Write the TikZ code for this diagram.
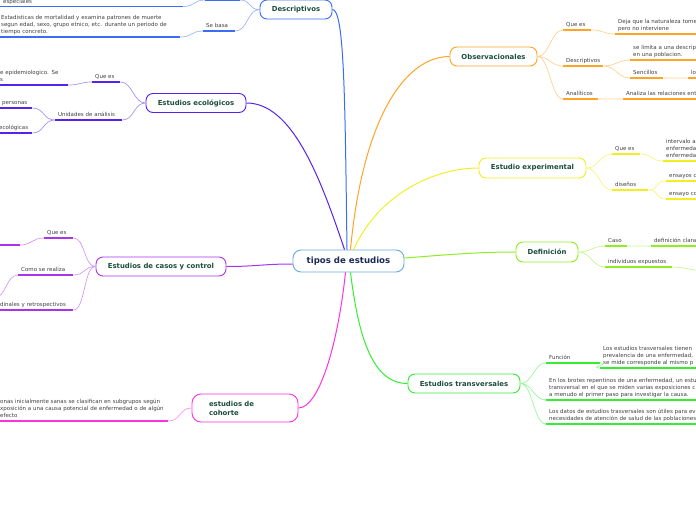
\documentclass[tikz,border=0pt]{standalone}
\usepackage{fontspec}
\setmainfont{DejaVu Sans}
\definecolor{cblue}{HTML}{3B6CF5}
\definecolor{cindigo}{HTML}{5522EE}
\definecolor{cpurple}{HTML}{AA33EE}
\definecolor{cmagenta}{HTML}{FF33DD}
\definecolor{corange}{HTML}{FFA424}
\definecolor{cyellow}{HTML}{F2EE22}
\definecolor{clime}{HTML}{8EEE22}
\definecolor{cgreen}{HTML}{33EE33}
\definecolor{ccentral}{HTML}{66AADD}
\definecolor{navy}{HTML}{1A2B55}
\definecolor{dkgreen}{HTML}{1B4D3E}
\definecolor{txt}{HTML}{404040}
\begin{document}
\begin{tikzpicture}[x=1pt, y=-1pt,
    topic/.style={draw, line width=0.9pt, rounded corners=7pt, fill=white, text=dkgreen,
      font=\fontsize{6.9}{9}\selectfont\bfseries, minimum height=19pt, inner sep=0pt},
    leaf/.style={anchor=south west, inner xsep=3pt, inner ysep=1.2pt, align=left, text=txt,
      font=\fontsize{5.5}{7}\selectfont, execute at begin node=\strut, execute at end node=\strut},
    conn/.style={line width=1pt},
    twig/.style={line width=0.7pt},
    uline/.style={line width=1.3pt},
    rc/.style={to path={.. controls +(#1,0) and +(-#1,0) .. (\tikztotarget)}}, rc/.default=12,
    lc/.style={to path={.. controls +(-#1,0) and +(#1,0) .. (\tikztotarget)}}, lc/.default=12]
    \useasboundingbox (0,0) rectangle (696,520);

    % centre and main topics
    \node[topic, draw=ccentral, text=navy, font=\fontsize{8.6}{10}\selectfont\bfseries,
      minimum width=111pt, minimum height=22pt, rounded corners=8pt] (tipos) at (348.5,261) {tipos de estudios};
    \node[topic, draw=cblue, minimum width=72pt] (desc) at (296,9.5) {Descriptivos};
    \node[topic, draw=cindigo, minimum width=100pt] (eco) at (196,103) {Estudios ecológicos};
    \node[topic, draw=cpurple, minimum width=130pt] (casos) at (161,266.5) {Estudios de casos y control};
    \node[topic, draw=cmagenta, minimum width=106pt, minimum height=28pt, text width=72pt,
      inner xsep=17pt, align=left, rounded corners=9pt] (coh) at (245,408) {estudios de\\cohorte};
    \node[topic, draw=corange, minimum width=87pt] (obs) at (493.5,56.5) {Observacionales};
    \node[topic, draw=cyellow, minimum width=107pt, minimum height=20pt] (exp) at (532.5,168) {Estudio experimental};
    \node[topic, draw=clime, minimum width=62pt, minimum height=20pt] (def) at (547,252) {Definición};
    \node[topic, draw=cgreen, minimum width=112pt] (tra) at (464,383.5) {Estudios transversales};

    \draw[conn, cblue] ([xshift=-1.5pt]tipos.north) .. controls +(-2,-150) and +(12,0) .. (desc.east);
    \draw[conn, cindigo] ([xshift=-4pt]tipos.north) .. controls +(-25,-75) and +(45,0) .. (eco.east);
    \draw[conn, corange] ([xshift=2pt]tipos.north) .. controls +(12,-130) and +(-45,0) .. (obs.west);
    \draw[conn, cyellow] ([xshift=5pt]tipos.north) .. controls +(25,-55) and +(-45,0) .. (exp.west);
    \draw[conn, clime] ([yshift=3pt]tipos.east) .. controls +(40,-3) and +(-40,0) .. (def.west);
    \draw[conn, cpurple] ([yshift=-3pt]tipos.west) .. controls +(-30,0) and +(30,0) .. (casos.east);
    \draw[conn, cmagenta] ([xshift=-3pt]tipos.south) .. controls +(-8,75) and +(20,0) .. (coh.east);
    \draw[conn, cgreen] ([xshift=2pt]tipos.south) .. controls +(8,65) and +(-35,0) .. (tra.west);

    % Observacionales
    \node[leaf, text width=22pt] (oq) at (563,30) {Que es};
    \node[leaf, text width=140pt] (oqt) at (615,34) {Deja que la naturaleza tome\\pero no interviene};
    \node[leaf, text width=34pt] (od) at (563,66) {Descriptivos};
    \node[leaf, text width=120pt] (odt) at (630,60) {se limita a una descrip\\en una poblacion.};
    \node[leaf, text width=27pt] (os) at (630,78) {Sencillos};
    \node[leaf, text width=20pt] (ost) at (688,78) {lo};
    \node[leaf, text width=29pt] (oa) at (563,99) {Analíticos};
    \node[leaf, text width=120pt] (oat) at (623,99) {Analiza las relaciones ent};
    \foreach \n in {oq,oqt,od,odt,os,ost,oa,oat}
      \draw[uline, corange] (\n.south west) -- (\n.south east);
    \draw[twig, corange!50] (obs.east) to[rc] (oq.south west) (obs.east) to[rc] (od.south west)
      (obs.east) to[rc] (oa.south west) (oq.south east) to[rc] (oqt.south west)
      (od.south east) to[rc] (odt.south west) (od.south east) to[rc] (os.south west)
      (os.south east) to[rc] (ost.south west) (oa.south east) to[rc] (oat.south west);

    % Estudio experimental
    \node[leaf, text width=22pt] (xq) at (612,154) {Que es};
    \node[leaf, text width=80pt] (xqt) at (663,161) {intervalo a\\enfermeda\\enfermeda};
    \node[leaf, text width=30pt] (xd) at (612,190) {diseños};
    \node[leaf, text width=80pt] (xd1) at (666,181) {ensayos c};
    \node[leaf, text width=80pt] (xd2) at (666,199) {ensayo co};
    \foreach \n in {xq,xqt,xd,xd1,xd2}
      \draw[uline, cyellow] (\n.south west) -- (\n.south east);
    \draw[twig, cyellow!60] (exp.east) to[rc] (xq.south west) (exp.east) to[rc] (xd.south west)
      (xq.south east) to[rc] (xqt.south west) (xd.south east) to[rc] (xd1.south west)
      (xd.south east) to[rc] (xd2.south west);

    % Definicion
    \node[leaf, text width=16pt] (fc) at (605,246) {Caso};
    \node[leaf, text width=80pt] (fct) at (651,246) {definición clara};
    \node[leaf, text width=61pt] (fi) at (605,267) {individuos expuestos};
    \coordinate (fix) at (712,272);
    \foreach \n in {fc,fct,fi}
      \draw[uline, clime] (\n.south west) -- (\n.south east);
    \draw[twig, clime!50] (def.east) to[rc] (fc.south west) (def.east) to[rc] (fi.south west)
      (fc.south east) to[rc] (fct.south west) (fi.south east) to[rc] (fix);

    % Estudios transversales
    \node[leaf, text width=48pt] (tf) at (546,363) {Función};
    \node[leaf, text width=140pt] (tft) at (600,368) {Los estudios trasversales tienen\\prevalencia de una enfermedad,\\se mide corresponde al mismo p};
    \node[leaf, text width=180pt] (t2) at (546,400) {En los brotes repentinos de una enfermedad, un estu\\transversal en el que se miden varias exposiciones c\\a menudo el primer paso para investigar la causa.};
    \node[leaf, text width=180pt] (t3) at (546,424) {Los datos de estudios trasversales son útiles para ev\\necesidades de atención de salud de las poblaciones};
    \foreach \n in {tf,tft,t2,t3}
      \draw[uline, cgreen] (\n.south west) -- (\n.south east);
    \draw[twig, cgreen!50] (tra.east) to[rc] (tf.south west) (tra.east) to[rc] (t2.south west)
      (tra.east) to[rc] (t3.south west) (tf.south east) to[rc] (tft.south west);

    % Descriptivos
    \coordinate (dqa) at (205,0);
    \coordinate (dqb) at (240,0);
    \node[leaf, text width=177pt] (dqt) at (0,6.5) {especiales};
    \node[leaf, text width=26pt] (dsb) at (203,31) {Se basa};
    \node[leaf, text width=176pt] (dsbt) at (-2,37) {Estadisticas de mortalidad y examina patrones de muerte\\segun edad, sexo, grupo etnico, etc. durante un periodo de\\tiempo concreto.};
    \draw[uline, cblue] (dqa) -- (dqb);
    \foreach \n in {dqt,dsb,dsbt}
      \draw[uline, cblue] (\n.south west) -- (\n.south east);
    \draw[twig, cblue!50] (desc.west) to[lc] (dqb) (desc.west) to[lc] (dsb.south east)
      (dqa) to[lc] (dqt.south east) (dsb.south west) to[lc] (dsbt.south east);

    % Estudios ecologicos
    \node[leaf, text width=22pt] (ecq) at (92,82) {Que es};
    \node[leaf, text width=65pt] (ecqt) at (-3,85) {e epidemiologico. Se\\s};
    \node[leaf, text width=61pt] (ecu) at (55,120) {Unidades de análisis};
    \node[leaf, text width=27pt] (ecu1) at (-1,108) {personas};
    \node[leaf, text width=30pt] (ecu2) at (-4,133) {ecológicas};
    \foreach \n in {ecq,ecqt,ecu,ecu1,ecu2}
      \draw[uline, cindigo] (\n.south west) -- (\n.south east);
    \draw[twig, cindigo!50] (eco.west) to[lc] (ecq.south east) (eco.west) to[lc] (ecu.south east)
      (ecq.south west) to[lc] (ecqt.south east) (ecu.south west) to[lc] (ecu1.south east)
      (ecu.south west) to[lc] (ecu2.south east);

    % Estudios de casos y control
    \node[leaf, text width=23pt] (cq) at (44,238) {Que es};
    \coordinate (cqa) at (20,245);
    \coordinate (cqb) at (-10,245);
    \node[leaf, text width=49pt] (cc) at (18,275) {Como se realiza};
    \coordinate (ccx) at (-6,298);
    \node[leaf, text width=70pt] (cr) at (-3,310) {dinales y retrospectivos};
    \draw[uline, cpurple] (cqa) -- (cqb);
    \foreach \n in {cq,cc,cr}
      \draw[uline, cpurple] (\n.south west) -- (\n.south east);
    \draw[twig, cpurple!50] (casos.west) to[lc] (cq.south east) (casos.west) to[lc] (cc.south east)
      (casos.west) to[lc] (cr.south east) (cq.south west) to[lc] (cqa)
      (cc.south west) to[lc] (ccx);

    % estudios de cohorte
    \node[leaf, text width=165pt] (cht) at (-3,421) {onas inicialmente sanas se clasifican en subgrupos según\\xposición a una causa potencial de enfermedad o de algún\\efecto};
    \draw[uline, cmagenta] (cht.south west) -- (cht.south east);
    \draw[twig, cmagenta!50] (coh.west) to[lc] (cht.south east);
\end{tikzpicture}
\end{document}
